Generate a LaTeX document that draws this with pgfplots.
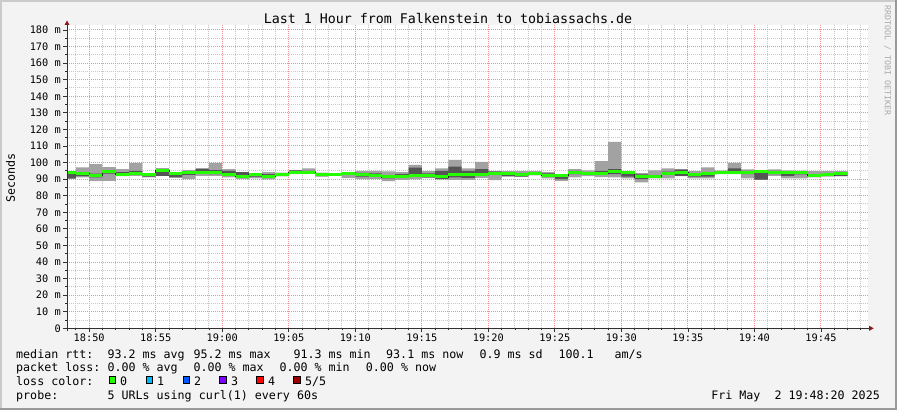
\documentclass[border=0pt]{standalone}
\usepackage{pgfplots}
\pgfplotsset{compat=1.18}
\usepackage{pgfplotstable}
\usepgfplotslibrary{fillbetween}
\usepackage{fontspec}
\setmainfont{DejaVu Sans Mono}
\newfontfamily\mono{DejaVu Sans Mono}
\newcommand\fL{\mono\fontsize{11.66}{14}\selectfont}
\newcommand\fA{\mono\fontsize{10.3}{12}\selectfont}
\newcommand\fT{\mono\fontsize{13.3}{15}\selectfont}
\newcommand\fW{\mono\fontsize{8.3}{10}\selectfont}
\definecolor{bgc}{HTML}{F3F3F3}
\definecolor{shadea}{HTML}{CBCBCB}
\definecolor{shadeb}{HTML}{999999}
\definecolor{mgrid}{HTML}{F09090}
\definecolor{mingrid}{HTML}{C8C8C8}
\definecolor{smokeL}{HTML}{A2A2A2}
\definecolor{smokeD}{HTML}{555555}
\definecolor{medgreen}{HTML}{26FF00}
\definecolor{arrowc}{HTML}{8B1A1A}
\definecolor{axisc}{HTML}{303030}
\definecolor{lc1}{HTML}{00B8FF}
\definecolor{lc2}{HTML}{0059FF}
\definecolor{lc3}{HTML}{7E00FF}
\definecolor{lc4}{HTML}{FF0000}
\definecolor{lc5}{HTML}{A10000}
\definecolor{wm}{HTML}{AAAAAA}
\pagecolor{bgc}

% t = minutes after 18:00; lo/hi = outer smoke, dlo/dhi = inner smoke, med = median rtt (ms)
\pgfplotstableread{
t lo dlo dhi hi med
48.3333 90.2 90.5 93.0 94.5 93.9
49 91.0 91.8 93.0 97.1 93.5
50 89.0 91.0 93.4 99.0 92.3
51 89.0 93.3 95.0 97.2 94.7
52 91.8 93.0 94.2 96.0 92.9
53 92.0 93.5 95.0 99.8 93.6
54 91.0 91.5 92.5 93.5 93.0
55 92.0 92.0 94.6 96.6 95.2
56 90.8 91.2 93.0 94.0 93.4
57 90.0 92.5 94.0 95.4 93.8
58 92.0 93.5 96.0 96.6 94.2
59 92.0 93.0 95.5 99.8 94.0
60 91.0 93.0 95.0 96.1 92.6
61 90.2 91.0 94.3 94.3 91.6
62 90.4 91.5 93.0 93.7 92.8
63 89.8 91.0 93.0 94.3 91.7
64 91.8 91.8 93.0 94.0 93.0
65 93.0 93.5 95.3 95.5 94.2
66 93.5 94.0 95.0 96.5 94.3
67 91.5 91.8 92.5 94.0 93.0
68 92.5 92.5 93.3 93.3 93.0
69 90.6 92.5 94.3 94.3 93.1
70 90.0 91.5 93.8 95.0 93.0
71 90.2 91.5 93.5 95.0 92.3
72 88.8 90.5 92.0 94.7 91.3
73 89.5 91.0 93.0 94.3 91.4
74 89.8 91.5 97.0 98.6 92.4
75 90.6 91.0 93.5 94.9 92.3
76 89.8 90.0 95.0 96.5 91.3
77 89.6 91.0 97.5 101.6 92.9
78 89.6 90.8 95.0 96.5 93.0
79 90.6 92.0 96.0 100.4 92.8
80 89.4 92.8 94.7 94.7 93.5
81 91.5 91.8 93.0 94.8 93.4
82 91.5 91.5 92.3 94.9 92.7
83 92.2 92.5 93.5 94.9 93.2
84 90.4 91.5 93.5 94.3 92.0
85 88.9 90.0 92.0 92.5 92.0
86 91.0 93.0 95.0 96.1 93.9
87 91.8 92.5 93.5 95.3 93.2
88 91.2 93.0 95.0 100.8 93.2
89 91.0 93.0 96.0 112.5 94.7
90 90.4 91.5 93.5 94.5 93.9
91 88.0 90.0 92.8 93.7 91.3
92 90.4 90.8 92.0 95.3 91.5
93 90.4 92.5 94.5 96.5 93.6
94 91.8 92.0 95.7 96.1 94.0
95 90.4 91.5 93.5 94.9 93.0
96 90.4 91.5 94.0 97.1 93.3
97 93.0 93.5 95.0 95.1 93.8
98 93.0 93.3 96.5 99.8 94.3
99 90.4 93.0 95.0 95.9 94.3
100 89.6 89.7 94.0 95.5 94.5
101 92.0 93.0 95.0 95.9 94.0
102 90.4 92.0 94.5 95.3 94.0
103 90.4 92.8 94.0 95.1 94.3
104 91.0 91.5 93.0 94.9 92.3
105 91.5 92.0 93.5 94.9 92.5
106 91.8 91.8 92.4 94.9 93.2
107 91.8 91.8 92.4 94.9 93.1
}\smoke

\begin{document}%
\begin{tikzpicture}[x=1pt,y=1pt]
\path (0,0) rectangle (897,410);
\fill[shadea] (0,0) rectangle (2,410);
\fill[shadea] (0,408) rectangle (897,410);
\fill[shadeb] (895,0) rectangle (897,410);
\fill[shadeb] (0,0) rectangle (897,2);

\begin{axis}[
  at={(67pt,81.7pt)}, anchor=south west, scale only axis,
  width=801.2pt, height=303.3pt,
  xmin=48.3333, xmax=108.55, ymin=0, ymax=183,
  clip mode=individual,
  axis background/.style={fill=white},
  axis line style={draw=none},
  tick pos=left,
  xtick={50,55,...,105},
  xticklabels={18:50,18:55,19:00,19:05,19:10,19:15,19:20,19:25,19:30,19:35,19:40,19:45},
  minor xtick={49,51,52,53,54,56,57,58,59,61,62,63,64,66,67,68,69,71,72,73,74,76,77,78,79,81,82,83,84,86,87,88,89,91,92,93,94,96,97,98,99,101,102,103,104,106,107,108},
  ytick={0,10,...,180},
  yticklabels={0,10 m,20 m,30 m,40 m,50 m,60 m,70 m,80 m,90 m,100 m,110 m,120 m,130 m,140 m,150 m,160 m,170 m,180 m},
  minor ytick={5,15,...,175},
  grid=both,
  major grid style={draw=mgrid, line width=1pt, dash pattern=on 1pt off 1pt},
  minor grid style={draw=mingrid, line width=1pt, dash pattern=on 1pt off 1pt},
  tick align=outside,
  major tick length=4pt, minor tick length=2pt,
  tick style={axisc, line width=0.8pt},
  xticklabel style={font=\fA, inner sep=0pt, anchor=north, yshift=-1pt},
  yticklabel style={font=\fA, inner sep=0pt, anchor=east, xshift=-2pt},
]
\addplot[name path=lo, draw=none, const plot] table[x=t, y=lo]{\smoke};
\addplot[name path=hi, draw=none, const plot] table[x=t, y=hi]{\smoke};
\addplot[smokeL] fill between[of=lo and hi];
\addplot[name path=dlo, draw=none, const plot] table[x=t, y=dlo]{\smoke};
\addplot[name path=dhi, draw=none, const plot] table[x=t, y=dhi]{\smoke};
\addplot[smokeD] fill between[of=dlo and dhi];
\addplot[const plot, draw=black!85, line width=0.8pt] table[x=t, y=med]{\smoke};
\addplot[jump mark left, draw=medgreen, line width=3pt] table[x=t, y=med]{\smoke};
% axes and arrows
\draw[axisc, line width=1pt] ([xshift=-4pt]rel axis cs:0,0) -- ([xshift=1pt]rel axis cs:1,0);
\draw[axisc, line width=1pt] ([yshift=-3pt]rel axis cs:0,0) -- (rel axis cs:0,1);
\fill[arrowc] ([xshift=1pt,yshift=2.5pt]rel axis cs:1,0) -- ([xshift=5.5pt]rel axis cs:1,0) -- ([xshift=1pt,yshift=-2.5pt]rel axis cs:1,0) -- cycle;
\fill[arrowc] ([xshift=-2.5pt]rel axis cs:0,1) -- ([yshift=4.5pt]rel axis cs:0,1) -- ([xshift=2.5pt]rel axis cs:0,1) -- cycle;
\end{axis}

% title, axis title, watermark
\node[anchor=base, inner sep=0pt, font=\fT] at (448,386) {Last 1 Hour from Falkenstein to tobiassachs.de};
\node[rotate=90, inner sep=0pt, font=\fL] at (10.5,232) {Seconds};
\node[rotate=-90, inner sep=0pt, font=\fW, text=wm, anchor=west] at (887.5,405) {RRDTOOL / TOBI OETIKER};

% legend
\begin{scope}[every node/.style={anchor=base west, inner sep=0pt, font=\fL}]
\node at (16,52) {median rtt:};
\node at (107.3,52) {93.2 ms avg};
\node at (193.3,52) {95.2 ms max};
\node at (293.3,52) {91.3 ms min};
\node at (386,52) {93.1 ms now};
\node at (479.3,52) {0.9 ms sd};
\node at (558.3,52) {100.1};
\node at (614.3,52) {am/s};
\node at (16,38.3) {packet loss:};
\node at (107.3,38.3) {0.00 \% avg};
\node at (193.3,38.3) {0.00 \% max};
\node at (279.3,38.3) {0.00 \% min};
\node at (365.7,38.3) {0.00 \% now};
\node at (16,24.5) {loss color:};
\node at (16,10.7) {probe:};
\node at (107.3,10.7) {5 URLs using curl(1) every 60s};
\node[anchor=base east] at (880,10.7) {Fri May~~2 19:48:20 2025};
\end{scope}
\begin{scope}[every node/.style={anchor=base west, inner sep=0pt, font=\fL}]
\filldraw[fill=medgreen, draw=black, line width=1pt] (109,27) rectangle (115.5,33.5);
\node at (120,24.5) {0};
\filldraw[fill=lc1, draw=black, line width=1pt] (146,27) rectangle (152.5,33.5);
\node at (157,24.5) {1};
\filldraw[fill=lc2, draw=black, line width=1pt] (183,27) rectangle (189.5,33.5);
\node at (194,24.5) {2};
\filldraw[fill=lc3, draw=black, line width=1pt] (219.8,27) rectangle (226.3,33.5);
\node at (230.8,24.5) {3};
\filldraw[fill=lc4, draw=black, line width=1pt] (256.8,27) rectangle (263.3,33.5);
\node at (267.8,24.5) {4};
\filldraw[fill=lc5, draw=black, line width=1pt] (293.8,27) rectangle (300.3,33.5);
\node at (304.8,24.5) {5/5};
\end{scope}
\end{tikzpicture}%
\end{document}
